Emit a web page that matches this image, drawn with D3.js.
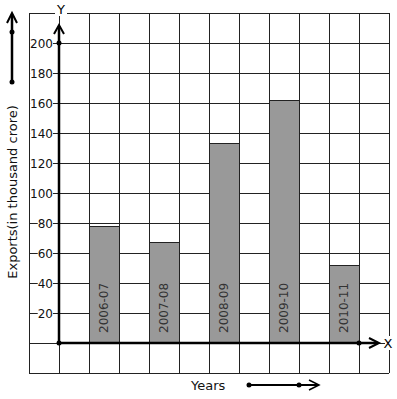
<!DOCTYPE html>
<html><head><meta charset="utf-8">
<script src="https://cdn.jsdelivr.net/npm/d3@7"></script>
<style>body{margin:0;background:#fff}svg{display:block;font-family:"DejaVu Sans",sans-serif}</style>
</head><body>
<svg id="c" width="397" height="399"></svg>
<script>
const categories = ["2006-07","2007-08","2008-09","2009-10","2010-11"];
const values = [78, 67, 133, 162, 52];
const yTicks = [20,40,60,80,100,120,140,160,180,200];
const yLabel = "Exports(in thousand crore)";
const xLabel = "Years";

const svg = d3.select("#c");
const xCol = d3.scaleLinear().domain([0,12]).range([29,389]);
const y = d3.scaleLinear().domain([0,200]).range([343,43]);
const colW = xCol(1)-xCol(0);

// grid
const g = svg.append("g").attr("stroke","#222").attr("stroke-width",1).attr("shape-rendering","crispEdges");
d3.range(0,13).forEach(i=>g.append("line").attr("x1",xCol(i)).attr("x2",xCol(i)).attr("y1",y(220)).attr("y2",y(-20)));
d3.range(-20,240,20).forEach(v=>g.append("line").attr("x1",xCol(0)).attr("x2",xCol(12)).attr("y1",y(v)).attr("y2",y(v)));

// bars over grid
const barCols = categories.map((c,i)=>2+2*i);
svg.selectAll("rect.bar").data(values).join("rect")
  .attr("x",(d,i)=>xCol(barCols[i])).attr("width",colW)
  .attr("y",d=>y(d)).attr("height",d=>y(0)-y(d))
  .attr("fill","#999").attr("stroke","#222").attr("stroke-width",1).attr("shape-rendering","crispEdges");

// bar labels
svg.selectAll("text.bl").data(categories).join("text")
  .attr("transform",(d,i)=>`translate(${xCol(barCols[i])+colW/2+4},${y(0)-10}) rotate(-90)`)
  .attr("font-size",12).attr("fill","#333").text(d=>d);

// tick labels with white background
yTicks.forEach(v=>{
  const t = svg.append("text").attr("x",53).attr("y",y(v)+4.5).attr("text-anchor","end")
    .attr("font-size",12).attr("fill","#111").text(v);
  const b = t.node().getBBox();
  svg.insert("rect","text").attr("x",b.x).attr("y",y(v)-1).attr("width",b.width).attr("height",3).attr("fill","#fff");
});

// axes
const ax = svg.append("g").attr("stroke","#000").attr("stroke-width",2.5).attr("fill","none");
ax.append("line").attr("x1",xCol(1)).attr("x2",xCol(1)).attr("y1",y(0)).attr("y2",26);
ax.append("path").attr("d",`M${xCol(1)-5},${34} L${xCol(1)},${25} L${xCol(1)+5},${34}`).attr("stroke-width",2);
ax.append("line").attr("x1",xCol(1)).attr("x2",378).attr("y1",y(0)).attr("y2",y(0));
ax.append("path").attr("d",`M${369},${y(0)-5} L${379},${y(0)} L${369},${y(0)+5}`).attr("stroke-width",2);
[[xCol(1),y(0)],[xCol(1),y(200)],[359,y(0)]].forEach(p=>svg.append("circle").attr("cx",p[0]).attr("cy",p[1]).attr("r",2.5).attr("fill","#000"));

// axis letters
svg.append("rect").attr("x",55).attr("y",10).attr("width",12).attr("height",6).attr("fill","#fff");
svg.append("text").attr("x",61).attr("y",14).attr("text-anchor","middle").attr("font-size",13).text("Y");
svg.append("rect").attr("x",385).attr("y",336).attr("width",12).attr("height",14).attr("fill","#fff");
svg.append("text").attr("x",388).attr("y",348).attr("text-anchor","middle").attr("font-size",13).text("X");

// y label + arrow
svg.append("text").attr("transform","translate(17,192) rotate(-90)").attr("text-anchor","middle").attr("font-size",13).attr("fill","#111").text(yLabel);
svg.append("line").attr("x1",12).attr("x2",12).attr("y1",82).attr("y2",15).attr("stroke","#000").attr("stroke-width",2.5);
svg.append("path").attr("d","M7,23 L12,13 L17,23").attr("stroke","#000").attr("stroke-width",2).attr("fill","none");
[32,82].forEach(cy=>svg.append("circle").attr("cx",12).attr("cy",cy).attr("r",2.5).attr("fill","#000"));

// x label + arrow
svg.append("text").attr("x",191).attr("y",390).attr("font-size",13).attr("fill","#111").text(xLabel);
svg.append("line").attr("x1",249).attr("x2",318).attr("y1",385).attr("y2",385).attr("stroke","#000").attr("stroke-width",2);
svg.append("path").attr("d","M309,380 L319,385 L309,390").attr("stroke","#000").attr("stroke-width",1.5).attr("fill","none");
[249,299].forEach(cx=>svg.append("circle").attr("cx",cx).attr("cy",385).attr("r",2.5).attr("fill","#000"));
</script>
</body></html>
